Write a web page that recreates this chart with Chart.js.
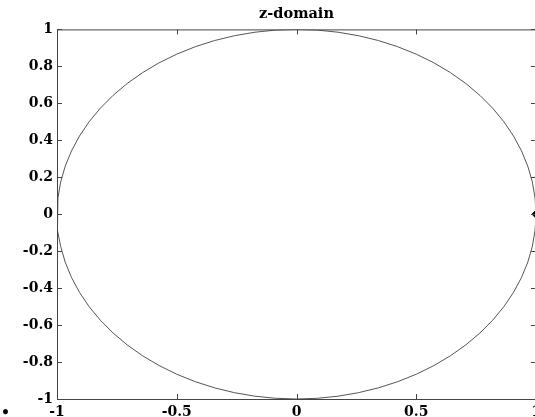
<!DOCTYPE html>
<html>
<head>
<meta charset="utf-8">
<script src="https://cdn.jsdelivr.net/npm/chart.js@4/dist/chart.umd.min.js"></script>
<style>
  html, body { margin: 0; padding: 0; background: #fff; }
  #frame { position: relative; width: 535px; height: 417px; overflow: hidden; background: #fff; }
  #wrap { position: absolute; left: 0; top: 0; width: 560px; height: 417px; }
  #bullet { position: absolute; left: 1px; top: 404px; font: bold 14px "DejaVu Serif", serif; color: #000; }
</style>
</head>
<body>
<div id="frame">
  <div id="wrap"><canvas id="c" width="560" height="417"></canvas></div>
  <span id="bullet">•</span>
</div>
<script>
// Unit circle sampled every 5 degrees
const circleX = [
  1, 0.9962, 0.9848, 0.9659, 0.9397, 0.9063, 0.8660, 0.8192, 0.7660, 0.7071, 0.6428, 0.5736, 0.5, 0.4226, 0.3420, 0.2588, 0.1736, 0.0872, 0,
  -0.0872, -0.1736, -0.2588, -0.3420, -0.4226, -0.5, -0.5736, -0.6428, -0.7071, -0.7660, -0.8192, -0.8660, -0.9063, -0.9397, -0.9659, -0.9848, -0.9962, -1,
  -0.9962, -0.9848, -0.9659, -0.9397, -0.9063, -0.8660, -0.8192, -0.7660, -0.7071, -0.6428, -0.5736, -0.5, -0.4226, -0.3420, -0.2588, -0.1736, -0.0872, 0,
  0.0872, 0.1736, 0.2588, 0.3420, 0.4226, 0.5, 0.5736, 0.6428, 0.7071, 0.7660, 0.8192, 0.8660, 0.9063, 0.9397, 0.9659, 0.9848, 0.9962, 1
];
const circleY = [
  0, 0.0872, 0.1736, 0.2588, 0.3420, 0.4226, 0.5, 0.5736, 0.6428, 0.7071, 0.7660, 0.8192, 0.8660, 0.9063, 0.9397, 0.9659, 0.9848, 0.9962, 1,
  0.9962, 0.9848, 0.9659, 0.9397, 0.9063, 0.8660, 0.8192, 0.7660, 0.7071, 0.6428, 0.5736, 0.5, 0.4226, 0.3420, 0.2588, 0.1736, 0.0872, 0,
  -0.0872, -0.1736, -0.2588, -0.3420, -0.4226, -0.5, -0.5736, -0.6428, -0.7071, -0.7660, -0.8192, -0.8660, -0.9063, -0.9397, -0.9659, -0.9848, -0.9962, -1,
  -0.9962, -0.9848, -0.9659, -0.9397, -0.9063, -0.8660, -0.8192, -0.7660, -0.7071, -0.6428, -0.5736, -0.5, -0.4226, -0.3420, -0.2588, -0.1736, -0.0872, 0
];

// Marker on the real axis
const markerX = [1];
const markerY = [0];

const xTicks = [-1, -0.5, 0, 0.5, 1];
const xTickLabels = ['-1', '-0.5', '0', '0.5', '1'];
const yTicks = [-1, -0.8, -0.6, -0.4, -0.2, 0, 0.2, 0.4, 0.6, 0.8, 1];
const yTickLabels = ['-1', '-0.8', '-0.6', '-0.4', '-0.2', '0', '0.2', '0.4', '0.6', '0.8', '1'];

const tickFont = { family: '"DejaVu Serif", serif', size: 14, weight: 'bold' };
const axisColor = '#444';

// Box around the plot area with inward ticks on all four sides
const boxTicks = {
  id: 'boxTicks',
  afterDatasetsDraw(chart) {
    const { ctx, chartArea: a, scales } = chart;
    const len = 5;
    ctx.save();
    ctx.strokeStyle = axisColor;
    ctx.lineWidth = 1;
    ctx.beginPath();
    ctx.rect(a.left + 0.5, a.top + 0.5, a.right - a.left, a.bottom - a.top);
    xTicks.forEach(v => {
      const px = Math.round(scales.x.getPixelForValue(v)) + 0.5;
      ctx.moveTo(px, a.bottom); ctx.lineTo(px, a.bottom - len);
      ctx.moveTo(px, a.top); ctx.lineTo(px, a.top + len);
    });
    yTicks.forEach(v => {
      const py = Math.round(scales.y.getPixelForValue(v)) + 0.5;
      ctx.moveTo(a.left, py); ctx.lineTo(a.left + len, py);
      ctx.moveTo(a.right, py); ctx.lineTo(a.right - len, py);
    });
    ctx.stroke();
    ctx.restore();
  }
};

new Chart(document.getElementById('c'), {
  type: 'scatter',
  data: {
    datasets: [
      {
        data: circleX.map((x, i) => ({ x, y: circleY[i] })),
        showLine: true,
        borderColor: '#555',
        borderWidth: 1,
        pointRadius: 0,
        tension: 0,
        fill: false
      },
      {
        data: markerX.map((x, i) => ({ x, y: markerY[i] })),
        pointStyle: 'rectRot',
        pointRadius: 4,
        backgroundColor: '#000',
        borderColor: '#000',
        borderWidth: 1,
        clip: false
      }
    ]
  },
  options: {
    responsive: false,
    animation: false,
    events: [],
    layout: { padding: { left: 0, right: 24, top: 0, bottom: 0 } },
    plugins: {
      legend: { display: false },
      tooltip: { enabled: false },
      title: {
        display: true,
        text: 'z-domain',
        fullSize: false,
        color: '#000',
        font: { family: '"DejaVu Serif", serif', size: 14.5, weight: 'bold', lineHeight: 1.2 },
        padding: { top: 6, bottom: 6 }
      }
    },
    scales: {
      x: {
        type: 'linear',
        min: -1, max: 1,
        afterBuildTicks: s => { s.ticks = xTicks.map(v => ({ value: v })); },
        afterFit: s => { s.height = 18; },
        grid: { display: false, drawTicks: false },
        border: { display: false },
        ticks: {
          autoSkip: false,
          maxRotation: 0,
          padding: 5,
          color: '#000',
          font: tickFont,
          callback: (v) => xTickLabels[xTicks.indexOf(v)]
        }
      },
      y: {
        type: 'linear',
        min: -1, max: 1,
        afterBuildTicks: s => { s.ticks = yTicks.map(v => ({ value: v })); },
        afterFit: s => { s.width = 57; },
        grid: { display: false, drawTicks: false },
        border: { display: false },
        ticks: {
          autoSkip: false,
          padding: 4,
          color: '#000',
          font: tickFont,
          callback: (v) => yTickLabels[yTicks.findIndex(t => Math.abs(t - v) < 1e-9)]
        }
      }
    }
  },
  plugins: [boxTicks]
});
</script>
</body>
</html>
